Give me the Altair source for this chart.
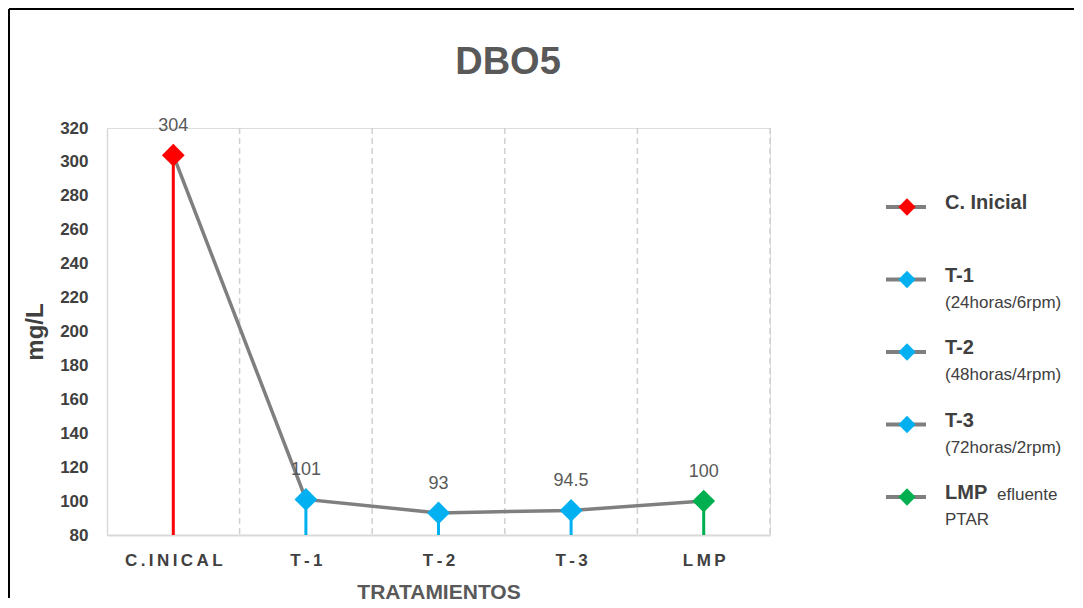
import json
import altair as alt
import pandas as pd

# ---- data ----
chart_title = "DBO5"
categories = ["C.INICAL", "T-1", "T-2", "T-3", "LMP"]
values = [304, 101, 93, 94.5, 100]
value_labels = ["304", "101", "93", "94.5", "100"]
point_colors = ["#FF0000", "#00B0F0", "#00B0F0", "#00B0F0", "#00B050"]

legend_names = ["C. Inicial", "T-1", "T-2", "T-3", "LMP"]
legend_subs = ["", "(24horas/6rpm)", "(48horas/4rpm)", "(72horas/2rpm)", "PTAR"]
legend_inline = ["", "", "", "", "efluente"]

y_ticks = [80, 100, 120, 140, 160, 180, 200, 220, 240, 260, 280, 300, 320]

FONT = "Liberation Sans"
GRAY_LINE = "#7f7f7f"

df = pd.DataFrame({
    "i": list(range(len(categories))),
    "cat": categories,
    "value": values,
    "lab": value_labels,
    "color": point_colors,
})
df_bounds = pd.DataFrame({"b": [k + 0.5 for k in range(len(categories))]})
df_leg = pd.DataFrame({
    "idx": list(range(len(legend_names))),
    "name": legend_names,
    "sub": legend_subs,
    "inline": legend_inline,
    "color": point_colors,
})
df_title = pd.DataFrame({"t": [chart_title]})

W, H = 663, 407

label_expr = "join(split(" + json.dumps(categories) + "[datum.value], ''), '\u2009')"

xscale = alt.Scale(domain=[-0.5, len(categories) - 0.5], nice=False, zero=False)
yscale = alt.Scale(domain=[80, 320], nice=False, zero=False)

x_axis = alt.Axis(values=list(range(len(categories))), labelExpr=label_expr,
                  grid=False, ticks=False, domainColor="#d9d9d9", domainWidth=2,
                  labelFontSize=17, labelFontWeight="bold", labelColor="#404040",
                  labelPadding=17, labelOverlap=False, titleFontSize=21,
                  titleFontWeight="bold", titleColor="#595959", titlePadding=13,
                  labelFont=FONT, titleFont=FONT)
y_axis = alt.Axis(values=y_ticks, tickCount=len(y_ticks), grid=False, ticks=False,
                  domainColor="#d9d9d9", domainWidth=1.5, labelFontSize=17,
                  labelFontWeight="bold", labelColor="#404040", labelPadding=19,
                  labelOverlap=False, titleFontSize=24, titleFontWeight="bold",
                  titleColor="#404040", titlePadding=12, labelFont=FONT, titleFont=FONT)


def X(field="i:Q"):
    return alt.X(field, scale=xscale, title="TRATAMIENTOS", axis=x_axis)


def Y():
    return alt.Y("value:Q", scale=yscale, title="mg/L", axis=y_axis)


base = alt.Chart(df)

bounds = alt.Chart(df_bounds).mark_rule(color="#d0d0d0", strokeWidth=1.5, strokeDash=[6, 4]).encode(
    x=X("b:Q"),
)

drops = base.mark_rule(strokeWidth=3).encode(
    x=X(), y=Y(), y2=alt.datum(80), color=alt.Color("color:N", scale=None)
)

line = base.mark_line(color=GRAY_LINE, strokeWidth=3.5).encode(x=X(), y=Y())

points = base.mark_point(shape="diamond", filled=True, size=520, opacity=1).encode(
    x=X(), y=Y(), color=alt.Color("color:N", scale=None)
)

texts = base.mark_text(dy=-29, fontSize=18, color="#595959", font=FONT).encode(
    x=X(), y=Y(), text="lab:N"
)

main = alt.layer(bounds, drops, line, points, texts)

# ---- legend panel, title and frame ----
legy = alt.Y("idx:Q", scale=alt.Scale(domain=[-79 / 72.5, (H - 79) / 72.5], reverse=True,
                                      nice=False, zero=False), axis=None)
lbase = alt.Chart(df_leg)
leg_line = lbase.mark_rule(color=GRAY_LINE, strokeWidth=4).encode(
    y=legy, x=alt.value(779), x2=alt.value(819)
)
leg_pts = lbase.mark_point(shape="diamond", filled=True, size=300, opacity=1).encode(
    y=legy, x=alt.value(800), color=alt.Color("color:N", scale=None)
)
leg_name = lbase.mark_text(align="left", baseline="middle", dy=-4, fontSize=20,
                           fontWeight="bold", color="#404040", font=FONT).encode(
    y=legy, x=alt.value(838), text="name:N"
)
leg_inline = lbase.mark_text(align="left", baseline="middle", dy=-2, fontSize=17,
                             color="#404040", font=FONT).encode(
    y=legy, x=alt.value(890), text="inline:N"
)
leg_sub = lbase.mark_text(align="left", baseline="middle", dy=23, fontSize=17,
                          color="#404040", font=FONT).encode(
    y=legy, x=alt.value(838), text="sub:N"
)
title_mark = alt.Chart(df_title).mark_text(align="center", baseline="alphabetic", fontSize=38,
                                           fontWeight="bold", color="#595959", font=FONT).encode(
    x=alt.value(401), y=alt.value(-54), text="t:N"
)
frame_top = lbase.mark_rule(color="#000000", strokeWidth=2).encode(
    x=alt.value(-98), x2=alt.value(967), y=alt.value(-119)
)
frame_left = lbase.mark_rule(color="#000000", strokeWidth=2).encode(
    x=alt.value(-98), y=alt.value(-119), y2=alt.value(470)
)
legend = alt.layer(leg_line, leg_pts, leg_name, leg_inline, leg_sub, title_mark,
                   frame_top, frame_left)

chart = alt.layer(main, legend).resolve_scale(y="independent").properties(
    width=W, height=H, padding=0,
).configure_view(fill="#fafbfd", strokeWidth=0).configure(font=FONT)

chart.save("out.html", embed_options={"renderer": "svg", "actions": False})
